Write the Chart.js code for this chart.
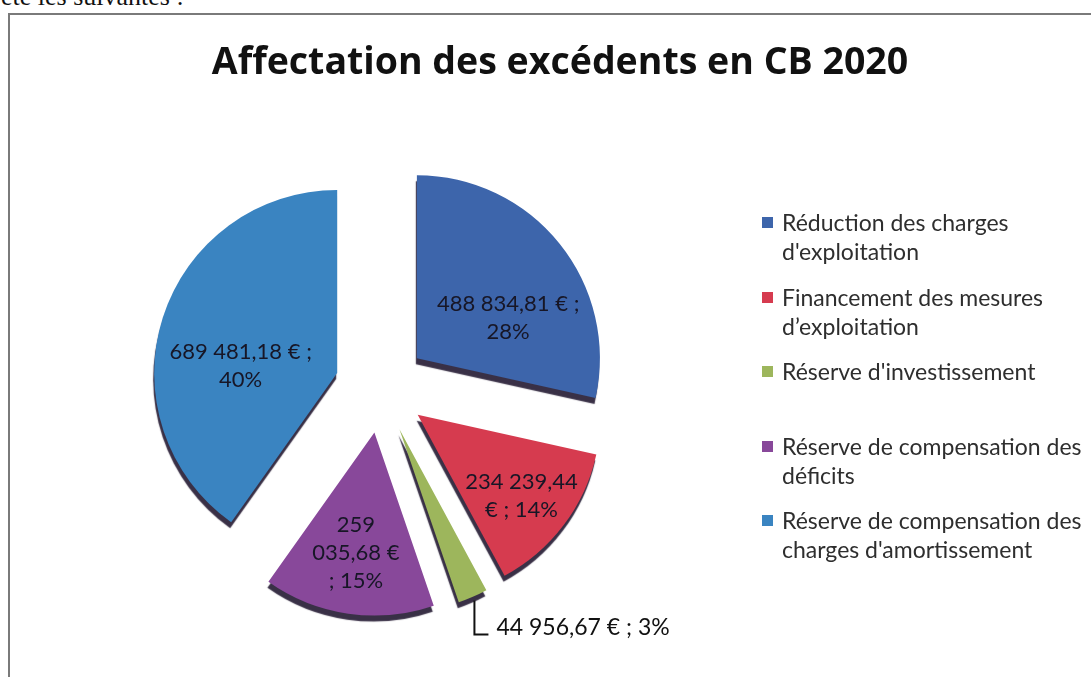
<!DOCTYPE html>
<html>
<head>
<meta charset="utf-8">
<script src="https://cdn.jsdelivr.net/npm/chart.js@4"></script>
<style>
  body { margin:0; background:#fff; width:1091px; height:677px; overflow:hidden; position:relative; }
  #intro { position:absolute; left:1px; top:-18px; font:26px "Liberation Serif", serif; color:#111; white-space:nowrap; }
  #frame { position:absolute; left:8px; top:13px; width:1120px; height:700px; border-left:2px solid #7a7a7a; border-top:2px solid #7a7a7a; }
  #wrap { position:absolute; left:8px; top:14px; width:1104px; height:663px; }
  #title { position:absolute; left:0; width:1120px; top:36px; text-align:center; font:700 37.5px "Open Sans", sans-serif; color:#111; line-height:48px; white-space:nowrap; }
  #legend { position:absolute; left:762px; top:208px; font:23px Lato, sans-serif; color:#2e2e2e; }
  .item { position:relative; height:74.5px; }
  .box { position:absolute; left:0; top:9px; width:11px; height:11px; }
  .txt { position:absolute; left:20px; top:0; line-height:29px; white-space:nowrap; }
</style>
</head>
<body>
<div id="intro">été les suivantes :</div>
<div id="frame"></div>
<div id="wrap"><canvas id="myChart"></canvas></div>
<div id="title"></div>
<div id="legend"></div>
<script>
const chartTitle = 'Affectation des excédents en CB 2020'
const categories = [
    ['Réduction des charges', "d'exploitation"],
    ['Financement des mesures', 'd’exploitation'],
    ["Réserve d'investissement"],
    ['Réserve de compensation des', 'déficits'],
    ['Réserve de compensation des', "charges d'amortissement"]
]
const amounts = [488834.81, 234239.44, 44956.67, 259035.68, 689481.18]
const sliceColors = ['#3d65ab', '#d63b4f', '#9db65c', '#88489a', '#3a84c1']
const labelWrap = [170, 120, 0, 90, 170]   // wrap width of each data label

const total = amounts.reduce((a, b) => a + b, 0)

function euro(v) {
    let parts = v.toFixed(2).split('.')
    let int = parts[0].replace(/\B(?=(\d{3})+(?!\d))/g, ' ')
    return int + ',' + parts[1] + ' €'
}

function wrapText(ctx, text, maxW) {
    if (!maxW) return [text]
    let words = text.split(' ')
    let lines = []
    let cur = ''
    for (let w of words) {
        let test = cur ? cur + ' ' + w : w
        if (cur && ctx.measureText(test).width > maxW) {
            lines.push(cur)
            cur = w
        } else {
            cur = test
        }
    }
    if (cur) lines.push(cur)
    return lines
}

document.getElementById('title').textContent = chartTitle

// legend (html)
const legend = document.getElementById('legend')
categories.forEach((lines, i) => {
    let item = document.createElement('div')
    item.className = 'item'
    item.innerHTML = '<div class="box" style="background:' + sliceColors[i] + '"></div>' +
        '<div class="txt">' + lines.join('<br>') + '</div>'
    legend.appendChild(item)
})

// draws the slices pulled out from the centre, with a dark "3d" edge
const explodePlugin = {
    id: 'explode',
    beforeDatasetDraw(chart, args, opts) {
        const ctx = chart.ctx
        const meta = args.meta
        meta.data.forEach((arc) => {
            const mid = (arc.startAngle + arc.endAngle) / 2
            ctx.save()
            ctx.translate(Math.cos(mid) * opts.distance, Math.sin(mid) * opts.distance)
            ctx.shadowColor = 'rgba(35,25,50,0.9)'
            ctx.shadowOffsetX = -1
            ctx.shadowOffsetY = 6
            ctx.shadowBlur = 1
            arc.draw(ctx)
            ctx.restore()
        })
        return false
    }
}

const labelPlugin = {
    id: 'sliceLabels',
    afterDatasetsDraw(chart, args, opts) {
        const ctx = chart.ctx
        const meta = chart.getDatasetMeta(0)
        const d = chart.options.plugins.explode.distance
        ctx.save()
        meta.data.forEach((arc, i) => {
            const mid = (arc.startAngle + arc.endAngle) / 2
            const theta = arc.endAngle - arc.startAngle
            const r = arc.outerRadius
            const vx = arc.x + Math.cos(mid) * d
            const vy = arc.y + Math.sin(mid) * d
            const pct = Math.round(amounts[i] / total * 100)
            const text = euro(amounts[i]) + ' ; ' + pct + '%'
            if (amounts[i] / total < 0.05) {
                // outside label with leader line
                const tx = vx + Math.cos(mid) * (r + 4)
                const ty = vy + Math.sin(mid) * (r + 4)
                ctx.strokeStyle = '#111'
                ctx.lineWidth = 2
                ctx.beginPath()
                ctx.moveTo(tx, ty)
                ctx.lineTo(tx, ty + 34)
                ctx.lineTo(tx + 14, ty + 34)
                ctx.stroke()
                ctx.fillStyle = '#111'
                ctx.textAlign = 'left'
                ctx.textBaseline = 'alphabetic'
                ctx.font = '23px Lato'
                ctx.fillText(text, tx + 22, ty + 35)
                return
            }
            // near the slice centroid, flattened a bit like the 3d view
            const dist = 4 * r * Math.sin(theta / 2) / (3 * theta) * opts.centroidScale
            const lx = vx + Math.cos(mid) * dist
            const ly = vy + Math.sin(mid) * dist * opts.tilt + opts.yShift
            ctx.font = '22px Lato'
            ctx.textBaseline = 'middle'
            const lines = wrapText(ctx, text, labelWrap[i])
            ctx.fillStyle = '#171626'
            ctx.textAlign = 'center'
            lines.forEach((ln, k) => {
                ctx.fillText(ln, lx, ly + (k - (lines.length - 1) / 2) * 28)
            })
        })
        ctx.restore()
    }
}

const ctx = document.getElementById('myChart')
const myChart = new Chart(ctx, {
    type: 'pie',
    data: {
        labels: categories,
        datasets: [{
            data: amounts,
            backgroundColor: sliceColors,
            borderWidth: 0
        }]
    },
    options: {
        responsive: true,
        maintainAspectRatio: false,
        animation: false,
        layout: {
            padding: { left: 190, right: 548, top: 190, bottom: 107 }
        },
        plugins: {
            legend: { display: false },
            tooltip: { enabled: false },
            title: { display: false },
            explode: { distance: 46 },
            sliceLabels: { centroidScale: 1.1, tilt: 0.8, yShift: 18 }
        }
    },
    plugins: [explodePlugin, labelPlugin]
})
</script>
</body>
</html>
